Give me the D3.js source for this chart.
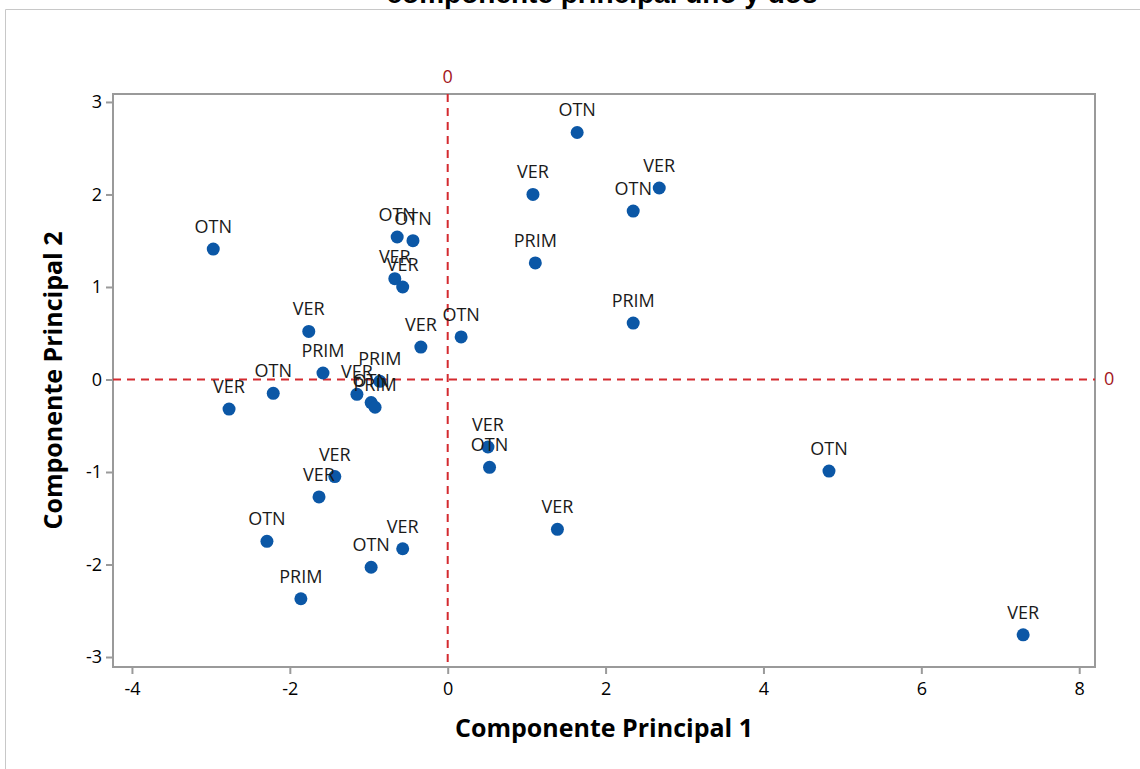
<!DOCTYPE html>
<html>
<head>
<meta charset="utf-8">
<script src="https://cdn.jsdelivr.net/npm/d3@7"></script>
<style>
  html, body { margin: 0; padding: 0; background: #fff; }
  svg { display: block; }
</style>
</head>
<body>
<svg id="chart" width="1140" height="769"></svg>
<script>
// Scores on the first two principal components, one label per observation
const groups = ["OTN","VER","VER","OTN","PRIM","PRIM","OTN","OTN","OTN","VER","VER","VER","VER","OTN",
                "PRIM","PRIM","VER","OTN","PRIM","OTN","VER","VER","OTN","OTN","VER","VER","VER","OTN",
                "VER","OTN","PRIM","VER"];
const pc1 = [1.64, 1.08, 2.68, 2.35, 1.11, 2.35, -2.97, -0.64, -0.44, -0.67, -0.57, -1.76, -0.34, 0.17,
             -1.58, -0.86, -1.15, -0.97, -0.92, -2.21, -2.77, 0.51, 0.53, 4.83, -1.43, -1.63, 1.39, -2.29,
             -0.57, -0.97, -1.86, 7.29];
const pc2 = [2.67, 2.00, 2.07, 1.82, 1.26, 0.61, 1.41, 1.54, 1.50, 1.09, 1.00, 0.52, 0.35, 0.46,
             0.07, -0.02, -0.16, -0.25, -0.30, -0.15, -0.32, -0.73, -0.95, -0.99, -1.05, -1.27, -1.62, -1.75,
             -1.83, -2.03, -2.37, -2.76];
const xTicks = [-4, -2, 0, 2, 4, 6, 8];
const yTicks = [-3, -2, -1, 0, 1, 2, 3];
const xDomain = [-4.24, 8.2];
const yDomain = [-3.108, 3.086];

const svg = d3.select("#chart");
const plot = { left: 113, top: 94, right: 1095, bottom: 667 };

const x = d3.scaleLinear().domain(xDomain).range([plot.left, plot.right]);
const y = d3.scaleLinear().domain(yDomain).range([plot.bottom, plot.top]);

const labelFont = "'Open Sans', 'Noto Sans', sans-serif";

// outer frame of the graph window
svg.append("path")
  .attr("d", "M5.5,769 L5.5,9.5 L1140,9.5")
  .attr("fill", "none").attr("stroke", "#c8c8c8").attr("stroke-width", 1);

// title (partially above the window)
svg.append("text")
  .attr("x", 602).attr("y", 3)
  .attr("text-anchor", "middle")
  .attr("font-family", "'Liberation Sans', Arial, sans-serif")
  .attr("font-weight", "bold").attr("font-size", 28)
  .attr("fill", "#000")
  .text("componente principal uno y dos");

// axes
const xAxis = d3.axisBottom(x).tickValues(xTicks).tickSize(6).tickPadding(4).tickFormat(d3.format("d"));
const yAxis = d3.axisLeft(y).tickValues(yTicks).tickSize(6).tickPadding(4).tickFormat(d3.format("d"));

const gx = svg.append("g").attr("transform", `translate(0,${plot.bottom + 1})`).call(xAxis);
const gy = svg.append("g").attr("transform", `translate(${plot.left - 1},0)`).call(yAxis);
[gx, gy].forEach(g => {
  g.select(".domain").remove();
  g.selectAll(".tick line").attr("stroke", "#9a9a9a").attr("stroke-width", 2);
  g.selectAll(".tick text")
    .attr("font-family", labelFont).attr("font-size", 18).attr("fill", "#000")
    .text(d => d < 0 ? "-" + Math.abs(d) : d);
});
gx.selectAll(".tick text").attr("dy", "0.95em");

// plot frame
svg.append("rect")
  .attr("x", plot.left).attr("y", plot.top)
  .attr("width", plot.right - plot.left).attr("height", plot.bottom - plot.top)
  .attr("fill", "none").attr("stroke", "#9a9a9a").attr("stroke-width", 2);

// reference lines at zero
const refColor = "#d42a2f";
svg.append("line")
  .attr("x1", x(0)).attr("x2", x(0)).attr("y1", plot.top).attr("y2", plot.bottom)
  .attr("stroke", refColor).attr("stroke-width", 2).attr("stroke-dasharray", "8,6");
svg.append("line")
  .attr("x1", plot.left).attr("x2", plot.right).attr("y1", y(0)).attr("y2", y(0))
  .attr("stroke", refColor).attr("stroke-width", 2).attr("stroke-dasharray", "8,6");
svg.append("text")
  .attr("x", x(0)).attr("y", plot.top - 11)
  .attr("text-anchor", "middle")
  .attr("font-family", labelFont).attr("font-size", 18).attr("fill", "#a3161c")
  .text("0");
svg.append("text")
  .attr("x", plot.right + 9).attr("y", y(0) + 6)
  .attr("text-anchor", "start")
  .attr("font-family", labelFont).attr("font-size", 18).attr("fill", "#a3161c")
  .text("0");

// points
const pts = groups.map((g, i) => ({ g, x: pc1[i], y: pc2[i] }));
svg.append("g").selectAll("circle").data(pts).join("circle")
  .attr("cx", d => x(d.x)).attr("cy", d => y(d.y)).attr("r", 6.5)
  .attr("fill", "#0b57a6");

// point labels
svg.append("g").selectAll("text").data(pts).join("text")
  .attr("x", d => x(d.x)).attr("y", d => y(d.y) - 16)
  .attr("text-anchor", "middle")
  .attr("font-family", labelFont).attr("font-size", 18).attr("fill", "#1a1a1a")
  .text(d => d.g);

// axis titles
svg.append("text")
  .attr("x", (plot.left + plot.right) / 2).attr("y", 737)
  .attr("text-anchor", "middle")
  .attr("font-family", labelFont).attr("font-weight", "bold").attr("font-size", 25)
  .attr("fill", "#000")
  .text("Componente Principal 1");
svg.append("text")
  .attr("transform", `translate(62,${(plot.top + plot.bottom) / 2}) rotate(-90)`)
  .attr("text-anchor", "middle")
  .attr("font-family", labelFont).attr("font-weight", "bold").attr("font-size", 25)
  .attr("fill", "#000")
  .text("Componente Principal 2");
</script>
</body>
</html>
